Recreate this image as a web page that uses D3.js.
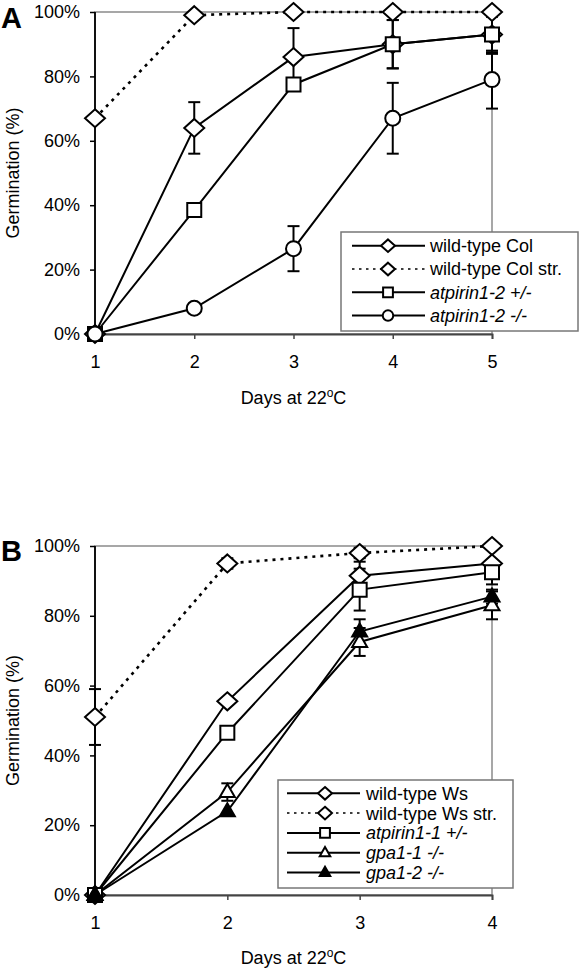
<!DOCTYPE html>
<html>
<head>
<meta charset="utf-8">
<script src="https://cdn.jsdelivr.net/npm/d3@7"></script>
<style>
  html, body { margin: 0; padding: 0; background: #fff; }
  svg { display: block; }
  text { font-family: "Liberation Sans", Arial, sans-serif; fill: #000; }
</style>
</head>
<body>
<svg id="chart" width="583" height="972"></svg>
<script>
// ---------- Panel A data ----------
const daysA = [1, 2, 3, 4, 5];
const colWT = [0, 64, 86, 90, 93];
const colWTerr = [0, 8, 9, 7.5, 6];
const colWTstr = [67, 99, 100, 100, 100];
const colWTstrErr = [0, 0, 0, 0, 0];
const pirin12Het = [0, 38.5, 77.5, 90, 93];
const pirin12HetErr = [0, 0, 0, 7.5, 5.5];
const pirin12Hom = [0, 8, 26.5, 67, 79];
const pirin12HomErr = [0, 0, 7, 11, 9];
const labelsA = ["wild-type Col", "wild-type Col str.", "atpirin1-2 +/-", "atpirin1-2 -/-"];

// ---------- Panel B data ----------
const daysB = [1, 2, 3, 4];
const wsWT = [0, 55.5, 91.5, 95];
const wsWTerr = [0, 0, 4, 0];
const wsWTstr = [51, 95, 98, 100];
const wsWTstrErr = [8, 1.5, 1.5, 0];
const pirin11Het = [0, 46.5, 87.5, 92.5];
const pirin11HetErr = [0, 0, 6, 3.5];
const gpa11 = [0, 29.5, 72.5, 83];
const gpa11Err = [0, 2.5, 4, 4];
const gpa12 = [0, 24, 75.5, 85.5];
const gpa12Err = [0, 0, 3.5, 2];
const labelsB = ["wild-type Ws", "wild-type Ws str.", "atpirin1-1 +/-", "gpa1-1 -/-", "gpa1-2 -/-"];

const yTicks = [0, 20, 40, 60, 80, 100];

const svg = d3.select("#chart");

function markerPath(shape, s) {
  // s = scale factor (1 for plot, smaller for legend)
  if (shape === "diamond") {
    const w = 10 * s, h = 9 * s;
    return `M0,${-h}L${w},0L0,${h}L${-w},0Z`;
  }
  if (shape === "square") {
    const a = 7 * s;
    return `M${-a},${-a}H${a}V${a}H${-a}Z`;
  }
  if (shape === "circle") {
    const r = 7.5 * s;
    return `M${r},0A${r},${r},0,1,1,${-r},0A${r},${r},0,1,1,${r},0Z`;
  }
  if (shape === "triangle" || shape === "triangleFilled") {
    const w = 7.5 * s, h = 13 * s;
    return `M0,${-h * 0.62}L${w},${h * 0.38}L${-w},${h * 0.38}Z`;
  }
  return "";
}

function drawPanel(cfg) {
  const g = svg.append("g");
  const x = d3.scaleLinear().domain([cfg.days[0], cfg.days[cfg.days.length - 1]]).range([95, 492]);
  const y = d3.scaleLinear().domain([0, 100]).range([cfg.y0, cfg.y100]);

  // plot border (top/right gray)
  g.append("rect")
    .attr("x", x.range()[0]).attr("y", y(100))
    .attr("width", x.range()[1] - x.range()[0]).attr("height", y(0) - y(100))
    .attr("fill", "none").attr("stroke", "#8a8a8a").attr("stroke-width", 1.5);

  // y axis
  const ya = g.append("g").attr("transform", `translate(${x.range()[0]},0)`)
    .call(d3.axisLeft(y).tickValues(yTicks).tickFormat(d => d + "%").tickSize(5).tickPadding(10));
  ya.select(".domain").remove();
  ya.selectAll("line").attr("stroke", "#000").attr("stroke-width", 1.5);
  ya.selectAll("text").attr("font-size", 18).attr("font-family", "Liberation Sans, Arial, sans-serif");
  g.append("line").attr("x1", x.range()[0]).attr("x2", x.range()[0])
    .attr("y1", y(100)).attr("y2", y(0)).attr("stroke", "#000").attr("stroke-width", 1.8);

  // x axis
  const xa = g.append("g").attr("transform", `translate(0,${y(0)})`)
    .call(d3.axisBottom(x).tickValues(cfg.days).tickFormat(d3.format("d")).tickSize(5).tickPadding(16));
  xa.select(".domain").attr("stroke", "#444").attr("stroke-width", 1.8);
  xa.selectAll("line").attr("stroke", "#444").attr("stroke-width", 1.5);
  xa.selectAll("text").attr("font-size", 18).attr("font-family", "Liberation Sans, Arial, sans-serif");

  // axis titles
  const xt = g.append("text").attr("x", (x.range()[0] + x.range()[1]) / 2).attr("y", cfg.xTitleY)
    .attr("text-anchor", "middle").attr("font-size", 18);
  xt.append("tspan").text("Days at 22");
  xt.append("tspan").attr("font-size", 12).attr("dy", -7).text("o");
  xt.append("tspan").attr("dy", 7).text("C");

  g.append("text")
    .attr("transform", `translate(13,${(y(0) + y(100)) / 2}) rotate(-90)`)
    .attr("text-anchor", "middle").attr("dominant-baseline", "central")
    .attr("font-size", 18).text("Germination (%)");

  // panel letter
  g.append("text").attr("x", 1).attr("y", cfg.letterY).attr("font-size", 29)
    .attr("font-weight", "bold").text(cfg.letter);

  const line = d3.line().x(d => x(d[0])).y(d => y(d[1]));

  // error bars
  cfg.series.forEach(s => {
    s.values.forEach((v, i) => {
      const e = s.err[i];
      if (!e) return;
      const cx = x(cfg.days[i]);
      const eg = g.append("g").attr("stroke", "#000").attr("stroke-width", 2);
      eg.append("line").attr("x1", cx).attr("x2", cx).attr("y1", y(v - e)).attr("y2", y(Math.min(100, v + e)));
      eg.append("line").attr("x1", cx - 6).attr("x2", cx + 6).attr("y1", y(v - e)).attr("y2", y(v - e));
      if (v + e <= 100) eg.append("line").attr("x1", cx - 6).attr("x2", cx + 6).attr("y1", y(v + e)).attr("y2", y(v + e));
    });
  });

  // lines
  cfg.series.forEach(s => {
    g.append("path").datum(cfg.days.map((d, i) => [d, s.values[i]]))
      .attr("d", line).attr("fill", "none").attr("stroke", "#000")
      .attr("stroke-width", s.dotted ? 2.6 : 2)
      .attr("stroke-dasharray", s.dotted ? "3,5" : null);
  });

  // markers (draw in given order)
  cfg.series.slice().sort((a, b) => a.z - b.z).forEach(s => {
    s.values.forEach((v, i) => {
      g.append("path").attr("d", markerPath(s.shape, 1))
        .attr("transform", `translate(${x(cfg.days[i])},${y(v)})`)
        .attr("fill", s.shape === "triangleFilled" ? "#000" : "#fff")
        .attr("stroke", "#000").attr("stroke-width", 2);
    });
  });

  // legend
  const L = cfg.legend;
  g.append("rect").attr("x", L.x0).attr("y", L.y0).attr("width", L.x1 - L.x0).attr("height", L.y1 - L.y0)
    .attr("fill", "#fff").attr("stroke", "#777").attr("stroke-width", 1.5);
  cfg.series.forEach((s, i) => {
    const ly = L.firstY + i * L.step;
    g.append("line").attr("x1", L.lx0).attr("x2", L.lx1).attr("y1", ly).attr("y2", ly)
      .attr("stroke", "#000").attr("stroke-width", s.dotted ? 1.5 : 2)
      .attr("stroke-dasharray", s.dotted ? "2.5,4.5" : null);
    g.append("path").attr("d", markerPath(s.shape, 0.7))
      .attr("transform", `translate(${L.mx},${ly})`)
      .attr("fill", s.shape === "triangleFilled" ? "#000" : "#fff")
      .attr("stroke", "#000").attr("stroke-width", 2);
    g.append("text").attr("x", L.tx).attr("y", ly).attr("dy", "0.36em")
      .attr("font-size", 18).attr("font-style", s.italic ? "italic" : "normal")
      .text(s.label);
  });
}

drawPanel({
  letter: "A", letterY: 28,
  days: daysA, y0: 334, y100: 12, xTitleY: 404,
  series: [
    { label: labelsA[0], values: colWT, err: colWTerr, shape: "diamond", z: 2 },
    { label: labelsA[1], values: colWTstr, err: colWTstrErr, shape: "diamond", dotted: true, z: 1 },
    { label: labelsA[2], values: pirin12Het, err: pirin12HetErr, shape: "square", italic: true, z: 3 },
    { label: labelsA[3], values: pirin12Hom, err: pirin12HomErr, shape: "circle", italic: true, z: 4 }
  ],
  legend: { x0: 341, x1: 578, y0: 232, y1: 331, firstY: 245.7, step: 23.3, lx0: 352, lx1: 425, mx: 388, tx: 430 }
});

drawPanel({
  letter: "B", letterY: 561,
  days: daysB, y0: 895, y100: 546, xTitleY: 964,
  series: [
    { label: labelsB[0], values: wsWT, err: wsWTerr, shape: "diamond", z: 2 },
    { label: labelsB[1], values: wsWTstr, err: wsWTstrErr, shape: "diamond", dotted: true, z: 1 },
    { label: labelsB[2], values: pirin11Het, err: pirin11HetErr, shape: "square", italic: true, z: 3 },
    { label: labelsB[3], values: gpa11, err: gpa11Err, shape: "triangle", italic: true, z: 4 },
    { label: labelsB[4], values: gpa12, err: gpa12Err, shape: "triangleFilled", italic: true, z: 5 }
  ],
  legend: { x0: 278, x1: 513, y0: 780, y1: 888, firstY: 793.3, step: 19.8, lx0: 287, lx1: 360, mx: 325, tx: 366 }
});
</script>
</body>
</html>
